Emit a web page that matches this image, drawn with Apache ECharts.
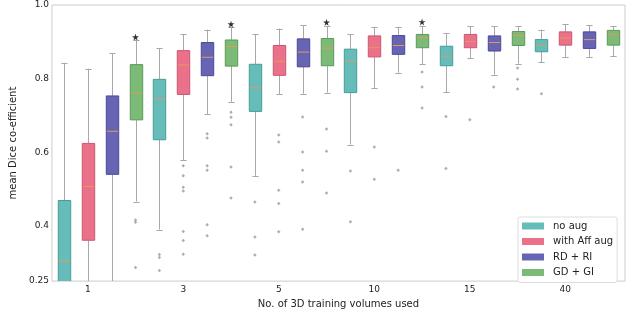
<!DOCTYPE html>
<html>
<head>
<meta charset="utf-8">
<script src="https://cdn.jsdelivr.net/npm/echarts@6/dist/echarts.min.js"></script>
<style>html,body{margin:0;padding:0;background:#fff}#c{width:628px;height:314px}</style>
</head>
<body>
<div id="c"></div>
<script>
// ---- data ----
const groups = ['1', '3', '5', '10', '15', '40'];
const seriesNames = ['no aug', 'with Aff aug', 'RD + RI', 'GD + GI'];
const yTicks = [0.25, 0.4, 0.6, 0.8, 1.0];
const yTickLabels = ['0.25', '0.4', '0.6', '0.8', '1.0'];

// per group: [min, Q1, median, Q3, max]
const noAug = [
  [0.10, 0.22, 0.305, 0.469, 0.843],
  [0.390, 0.634, 0.745, 0.798, 0.883],
  [0.536, 0.711, 0.777, 0.839, 0.920],
  [0.621, 0.762, 0.848, 0.880, 0.921],
  [0.763, 0.835, 0.861, 0.888, 0.924],
  [0.844, 0.873, 0.890, 0.906, 0.933]
];
const withAff = [
  [0.15, 0.361, 0.507, 0.624, 0.827],
  [0.578, 0.757, 0.837, 0.876, 0.920],
  [0.758, 0.809, 0.847, 0.890, 0.936],
  [0.775, 0.859, 0.884, 0.916, 0.941],
  [0.856, 0.884, 0.901, 0.920, 0.943],
  [0.859, 0.891, 0.910, 0.927, 0.948]
];
const rdRi = [
  [0.15, 0.540, 0.657, 0.753, 0.869],
  [0.703, 0.808, 0.858, 0.898, 0.933],
  [0.759, 0.832, 0.872, 0.908, 0.945],
  [0.816, 0.866, 0.890, 0.917, 0.941],
  [0.811, 0.875, 0.898, 0.916, 0.943],
  [0.859, 0.882, 0.906, 0.927, 0.946]
];
const gdGi = [
  [0.466, 0.688, 0.761, 0.838, 0.904],
  [0.737, 0.834, 0.887, 0.905, 0.940],
  [0.762, 0.835, 0.883, 0.909, 0.943],
  [0.840, 0.884, 0.911, 0.920, 0.942],
  [0.841, 0.890, 0.917, 0.928, 0.943],
  [0.861, 0.891, 0.920, 0.931, 0.943]
];
// outliers per group
const noAugOut = [[], [0.322, 0.314, 0.279], [0.465, 0.370, 0.321], [0.549, 0.411], [0.697, 0.556], [0.759]];
const withAffOut = [[], [0.563, 0.536, 0.505, 0.495, 0.385, 0.360, 0.323], [0.647, 0.628, 0.497, 0.461, 0.384], [0.614, 0.527], [0.688], []];
const rdRiOut = [[], [0.650, 0.639, 0.563, 0.551, 0.403, 0.373], [0.696, 0.601, 0.551, 0.519, 0.391], [0.551], [0.777], []];
const gdGiOut = [[0.416, 0.410, 0.287], [0.709, 0.695, 0.675, 0.560, 0.476], [0.663, 0.603, 0.489], [0.818, 0.777, 0.720], [0.829, 0.798, 0.772], []];
// significance stars (GD + GI), per group (null = none)
const starValues = [0.913, 0.948, 0.953, 0.954, null, null];

// ---- styling ----
const fills = ['#66bcb9', '#ea7189', '#6764b4', '#7bba77'];
const edges = ['#449c98', '#cc5570', '#4b4897', '#5a9a5a'];
const FONT = 'DejaVu Sans';

const stats = [noAug, withAff, rdRi, gdGi];
const outs = [noAugOut, withAffOut, rdRiOut, gdGiOut];
const nS = seriesNames.length;
const categories = [];
groups.forEach(g => seriesNames.forEach(s => categories.push(g + '|' + s)));

function renderBox(params, api) {
  const x = api.value(0);
  const lo = api.coord([x, api.value(1)]);
  const q1 = api.coord([x, api.value(2)]);
  const md = api.coord([x, api.value(3)]);
  const q3 = api.coord([x, api.value(4)]);
  const hi = api.coord([x, api.value(5)]);
  const band = api.size([1, 0])[0];
  const bw = band * 0.52, cw = bw * 0.5;
  const cx = Math.round(lo[0]) + 0.5;
  const si = params.seriesIndex;
  const wStyle = { stroke: '#a8a8a8', lineWidth: 1, fill: null };
  return {
    type: 'group',
    children: [
      { type: 'line', shape: { x1: cx, y1: q1[1], x2: cx, y2: lo[1] }, style: wStyle },
      { type: 'line', shape: { x1: cx, y1: q3[1], x2: cx, y2: hi[1] }, style: wStyle },
      { type: 'line', shape: { x1: cx - cw / 2, y1: Math.round(lo[1]) + 0.5, x2: cx + cw / 2, y2: Math.round(lo[1]) + 0.5 }, style: wStyle },
      { type: 'line', shape: { x1: cx - cw / 2, y1: Math.round(hi[1]) + 0.5, x2: cx + cw / 2, y2: Math.round(hi[1]) + 0.5 }, style: wStyle },
      { type: 'rect', shape: { x: cx - bw / 2, y: q3[1], width: bw, height: q1[1] - q3[1] },
        style: { fill: fills[si], stroke: edges[si], lineWidth: 1 } },
      { type: 'line', shape: { x1: cx - bw / 2 + 0.5, y1: md[1], x2: cx + bw / 2 - 0.5, y2: md[1] },
        style: { stroke: '#e39a5c', lineWidth: 1 } }
    ]
  };
}

const series = [];
stats.forEach((arr, si) => {
  series.push({
    name: seriesNames[si],
    type: 'custom',
    renderItem: renderBox,
    clip: true,
    itemStyle: { color: fills[si] },
    encode: { x: 0, y: [1, 2, 3, 4, 5] },
    data: arr.map((d, gi) => [gi * nS + si].concat(d)),
    z: 2
  });
});
const outData = [];
outs.forEach((arr, si) => arr.forEach((vals, gi) => vals.forEach(v => outData.push([gi * nS + si, v]))));
series.push({
  name: 'outliers', type: 'scatter', symbol: 'diamond', symbolSize: 3.5,
  itemStyle: { color: '#9a9a9a' }, data: outData, silent: true, z: 3
});
const starData = [];
starValues.forEach((v, gi) => { if (v != null) starData.push([gi * nS + 3, v]); });
series.push({
  name: 'stars', type: 'scatter',
  symbol: 'path://M50,0 L61,35 L98,35 L68,57 L79,91 L50,70 L21,91 L32,57 L2,35 L39,35 Z',
  symbolSize: 7, itemStyle: { color: '#000' }, data: starData, silent: true, z: 4
});

const chart = echarts.init(document.getElementById('c'), null, { renderer: 'canvas' });
chart.setOption({
  animation: false,
  backgroundColor: '#fff',
  textStyle: { fontFamily: FONT },
  grid: { left: 34, right: 3, top: 5, bottom: 26, show: true, borderColor: '#cccccc', borderWidth: 1 },
  legend: {
    data: seriesNames,
    orient: 'vertical', left: 518, top: 217,
    icon: 'rect', itemWidth: 22, itemHeight: 7, itemGap: 3.5,
    padding: [3, 4, 4, 4],
    backgroundColor: '#fff', borderColor: '#dddddd', borderWidth: 1, borderRadius: 2,
    textStyle: { fontFamily: FONT, fontSize: 10, color: '#222', lineHeight: 12, padding: [0, 0, 0, 4] }
  },
  xAxis: {
    type: 'category', data: categories, boundaryGap: true,
    name: 'No. of 3D training volumes used', nameLocation: 'middle', nameGap: 12,
    nameTextStyle: { fontFamily: FONT, fontSize: 10, color: '#222' },
    axisLine: { show: false }, axisTick: { show: false }, splitLine: { show: false },
    axisLabel: {
      interval: 0, margin: 4, fontFamily: FONT, fontSize: 9, color: '#222',
      formatter: (v, i) => (i % nS === 1 ? groups[Math.floor(i / nS)] : '')
    }
  },
  yAxis: {
    type: 'value', min: 0.25, max: 1.0,
    name: 'mean Dice co-efficient', nameLocation: 'middle', nameGap: 21,
    nameTextStyle: { fontFamily: FONT, fontSize: 10, color: '#222' },
    axisLine: { show: false }, axisTick: { show: false }, splitLine: { show: false },
    axisLabel: {
      customValues: yTicks, margin: 3, fontFamily: FONT, fontSize: 9, color: '#222',
      formatter: v => { const k = yTicks.findIndex(t => Math.abs(t - v) < 1e-6); return k >= 0 ? yTickLabels[k] : ''; }
    }
  },
  series: series
});
</script>
</body>
</html>
